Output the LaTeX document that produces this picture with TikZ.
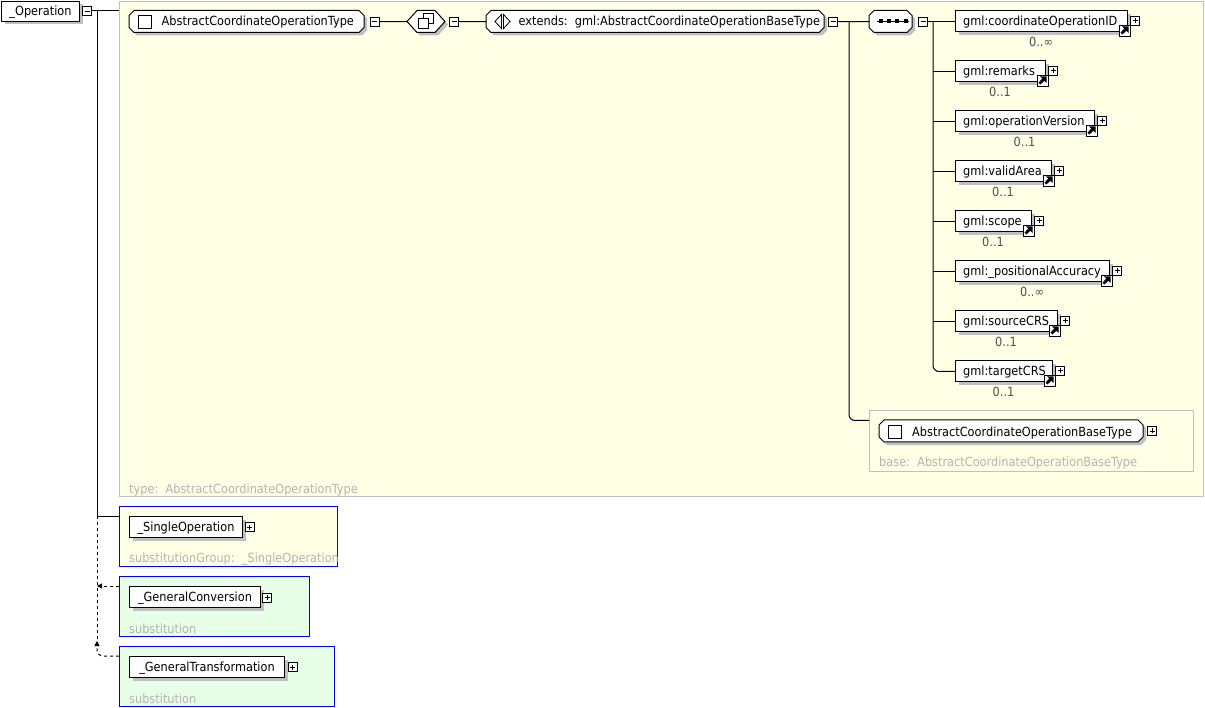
\documentclass[tikz,border=0pt]{standalone}
\usepackage{fontspec}
\setmainfont{DejaVu Sans}[FakeStretch=0.9]
\usetikzlibrary{arrows.meta,shadows}

\definecolor{paneyellow}{HTML}{FFFFE6}
\definecolor{panegreen}{HTML}{E6FFE6}
\definecolor{framegray}{HTML}{C0C0C0}
\definecolor{shadegray}{HTML}{C0C0C0}
\definecolor{labelgray}{HTML}{B4B4B4}
\definecolor{multgray}{HTML}{505050}
\definecolor{substblue}{HTML}{0000FF}

\newcommand\lbfont{\fontsize{12.6}{15}\selectfont}

% chamfered outline with its drop shadow: x1, y1, x2, y2
\newcommand\octoshape[4]{%
  \fill[shadegray] ({#1+8},{#2+3}) -- ({#3-2},{#2+3}) -- ({#3+3},{#2+8}) -- ({#3+3},{#4-2})
    -- ({#3-2},{#4+3}) -- ({#1+8},{#4+3}) -- ({#1+3},{#4-2}) -- ({#1+3},{#2+8}) -- cycle;
  \filldraw[fill=white, draw=black, line width=1pt] ({#1+5},#2) -- ({#3-5},#2) -- (#3,{#2+5})
    -- (#3,{#4-5}) -- ({#3-5},#4) -- ({#1+5},#4) -- (#1,{#4-5}) -- (#1,{#2+5}) -- cycle;}

\tikzset{
  wire/.style={draw=black, line width=1pt},
  dashwire/.style={wire, dash pattern=on 3pt off 3pt},
  pane/.style={draw=framegray, line width=1pt, fill=paneyellow, anchor=north west, inner sep=0pt},
  subpane/.style={pane, draw=substblue},
  slot/.style={anchor=north west, inner sep=0pt},
  elembox/.style={draw=black, fill=white, line width=1pt, anchor=north west, inner sep=0pt,
    minimum height=21pt, font=\lbfont, text height=10.5pt, text depth=1.5pt,
    drop shadow={shadow xshift=3pt, shadow yshift=-3pt, fill=shadegray, opacity=1}},
  txt/.style={inner sep=0pt, font=\lbfont, anchor=base west},
  greytxt/.style={txt, text=labelgray},
  multtxt/.style={inner sep=0pt, font=\lbfont, text=multgray, anchor=base},
  pmbox/.style={draw=black, fill=white, line width=0.8pt, minimum size=9pt, inner sep=0pt},
  minusbox/.style={pmbox, path picture={\draw[line width=0.9pt]
    ([xshift=-2.5pt]path picture bounding box.center) -- ([xshift=2.5pt]path picture bounding box.center);}},
  plusbox/.style={pmbox, path picture={\draw[line width=0.9pt]
    ([xshift=-2.5pt]path picture bounding box.center) -- ([xshift=2.5pt]path picture bounding box.center)
    ([yshift=-2.5pt]path picture bounding box.center) -- ([yshift=2.5pt]path picture bounding box.center);}},
  checkbox/.style={draw=black, fill=white, line width=0.9pt, minimum size=13pt, inner sep=0pt},
  linkicon/.style={draw=black, fill=white, line width=0.8pt, minimum width=11pt, minimum height=11pt, inner sep=0pt,
    path picture={
      \fill[black] ([shift={(1.5pt,3.4pt)}]path picture bounding box.south west)
        -- ([shift={(3.4pt,1.5pt)}]path picture bounding box.south west)
        -- ([shift={(-3.2pt,-5.4pt)}]path picture bounding box.north east)
        -- ([shift={(-5.4pt,-3.2pt)}]path picture bounding box.north east) -- cycle;
      \fill[black] ([shift={(-1.5pt,-1.5pt)}]path picture bounding box.north east) -- ++(-6.5pt,0pt) -- ++(6.5pt,-6.5pt) -- cycle;}},
  tipsmall/.style={-{Triangle[length=5pt,width=5pt]}}
}

\begin{document}
\begin{tikzpicture}[x=1pt,y=-1pt]
\useasboundingbox (0,0) rectangle (1205,708);

% ---- panes ----
\node[pane, minimum width=1084, minimum height=495] (typepane) at (119,1) {};
\node[pane, fill=none, minimum width=324, minimum height=61] (basepane) at (869,410) {};
\node[subpane, minimum width=218, minimum height=60] (singlepane) at (119,506) {};
\node[subpane, fill=panegreen, minimum width=190, minimum height=60] (gcpane) at (119,576) {};
\node[subpane, fill=panegreen, minimum width=215, minimum height=60] (gtpane) at (119,646) {};

\node[greytxt] (typelbl) at (129,493) {type:\ \ AbstractCoordinateOperationType};
\node[greytxt] (baselbl) at (879,467) {base:\ \ AbstractCoordinateOperationBaseType};
\node[greytxt] (singlelbl) at (129,562) {substitutionGroup:\ \ \_SingleOperation};
\node[greytxt] (gclbl) at (129,633) {substitution};
\node[greytxt] (gtlbl) at (129,703) {substitution};

% ---- root element ----
\node[elembox, minimum width=78, minimum height=20] (op) at (1,1) {\_Operation};
\node[minusbox] (opminus) at (87,11) {};

% ---- complex type ----
\octoshape{129}{10.5}{364}{32.5}
\node[slot, minimum width=235, minimum height=22] (aco) at (129,10.5) {};
\node[checkbox] (acobox) at (145,21.5) {};
\node[txt] (acot) at (161.5,26) {AbstractCoordinateOperationType};
\node[minusbox] (acominus) at (374.5,21.5) {};

% ---- complex content ----
\fill[shadegray] (410,24.5) -- (420,13.5) -- (438,13.5) -- (448,24.5) -- (438,35.5) -- (420,35.5) -- cycle;
\filldraw[fill=white, draw=black, line width=1pt] (407,21.5) -- (417,10.5) -- (435,10.5) -- (445,21.5) -- (435,32.5) -- (417,32.5) -- cycle;
\filldraw[fill=white, draw=black, line width=0.9pt] (423.5,13.5) rectangle (433.5,23.5);
\filldraw[fill=white, draw=black, line width=0.9pt] (418.5,18.5) rectangle (428.5,28.5);
\node[slot, minimum width=38, minimum height=22] (hex) at (407,10.5) {};
\node[minusbox] (hexminus) at (454,21.5) {};

% ---- extension ----
\octoshape{486}{10.5}{824}{32.5}
\node[slot, minimum width=338, minimum height=22] (ext) at (486,10.5) {};
\draw[line width=0.8pt] (495,21.5) -- (501.5,14.5) -- (501.5,28.5) -- cycle;
\draw[line width=0.8pt] (510,21.5) -- (503.5,14.5) -- (503.5,28.5) -- cycle;
\node[txt] (extt) at (518.5,26) {extends:\ \ gml:AbstractCoordinateOperationBaseType};
\node[minusbox] (extminus) at (833,21.5) {};

% ---- sequence ----
\octoshape{869}{10.5}{912}{32.5}
\node[slot, minimum width=43, minimum height=22] (seq) at (869,10.5) {};
\draw[line width=1pt] (877,21.5) -- (909,21.5);
\foreach \d in {880.5,888.5,897,905.5}
  \fill (\d-2,19.5) rectangle (\d+2,23.5);
\node[minusbox] (seqminus) at (923,21.5) {};

% ---- base type ----
\octoshape{879}{420}{1143}{442}
\node[slot, minimum width=264, minimum height=22] (base) at (879,420) {};
\node[checkbox] (basebox) at (894.5,431.5) {};
\node[txt] (baset) at (912,436) {AbstractCoordinateOperationBaseType};
\node[plusbox] (baseplus) at (1152,431) {};

% ---- sequence members ----
\foreach \i/\t/\r/\lab/\m in {
  1/10.5/1127/gml:coordinateOperationID/0..∞,
  2/60.5/1045/gml:remarks/0..1,
  3/110.5/1094/gml:operationVersion/0..1,
  4/160.5/1051/gml:validArea/0..1,
  5/210.5/1031/gml:scope/0..1,
  6/260.5/1109/gml:\_positionalAccuracy/0..∞,
  7/310.5/1057/gml:sourceCRS/0..1,
  8/360.5/1052/gml:targetCRS/0..1}{
  \node[elembox, minimum width={\r-955}] (c\i) at (955,\t) {};
  \node[txt] (c\i-t) at (963,{\t+15.5}) {\lab};
  \node[linkicon] (c\i-l) at ({\r-2.5},{\t+20}) {};
  \node[plusbox] (c\i-p) at ({\r+8},{\t+10}) {};
  \node[multtxt] (c\i-m) at ({(955+\r)/2},{\t+36}) {\m};
}

% ---- substitution group members ----
\node[elembox, minimum width=113] (single) at (129,516) {\_SingleOperation};
\node[plusbox] (singleplus) at (249.5,527) {};
\node[elembox, minimum width=131] (gc) at (129,586) {\_GeneralConversion};
\node[plusbox] (gcplus) at (267,597.5) {};
\node[elembox, minimum width=155] (gt) at (129,656) {\_GeneralTransformation};
\node[plusbox] (gtplus) at (292.5,667) {};

% ---- connectors ----
\coordinate (opfork) at (97,11);
\coordinate (singlein) at ([yshift=-10pt]singlepane.north west);
\coordinate (gcin) at ([yshift=-10pt]gcpane.north west);
\coordinate (gtin) at ([yshift=-10pt]gtpane.north west);
\coordinate (gttip) at (97,641);
\draw[wire] (opminus.east) -- (opminus.east -| typepane.west);
\draw[wire] (opfork) |- (singlein);
\draw[dashwire] (opfork |- singlein) -- (gttip);
\draw[dashwire, tipsmall] (gcin) -- (opfork |- gcin);
\draw[dashwire, tipsmall, rounded corners=6pt] (gtin) -| (gttip);

\draw[wire] (acominus.east) -- (hex.west);
\draw[wire] (hexminus.east) -- (ext.west);
\draw[wire] (extminus.east) -- (seq.west);
\coordinate (extfork) at (849,21.5);
\coordinate (basein) at ([yshift=-10.5pt]basepane.north west);
\draw[wire, rounded corners=6pt] (extfork) |- (basein);

\coordinate (seqfork) at (933,21.5);
\draw[wire] (seqminus.east) -- (seqfork);
\draw[wire, rounded corners=6pt] (seqfork) |- (c8.west);
\foreach \i in {1,...,7}
  \draw[wire] (seqfork |- c\i.west) -- (c\i.west);
\end{tikzpicture}
\end{document}
